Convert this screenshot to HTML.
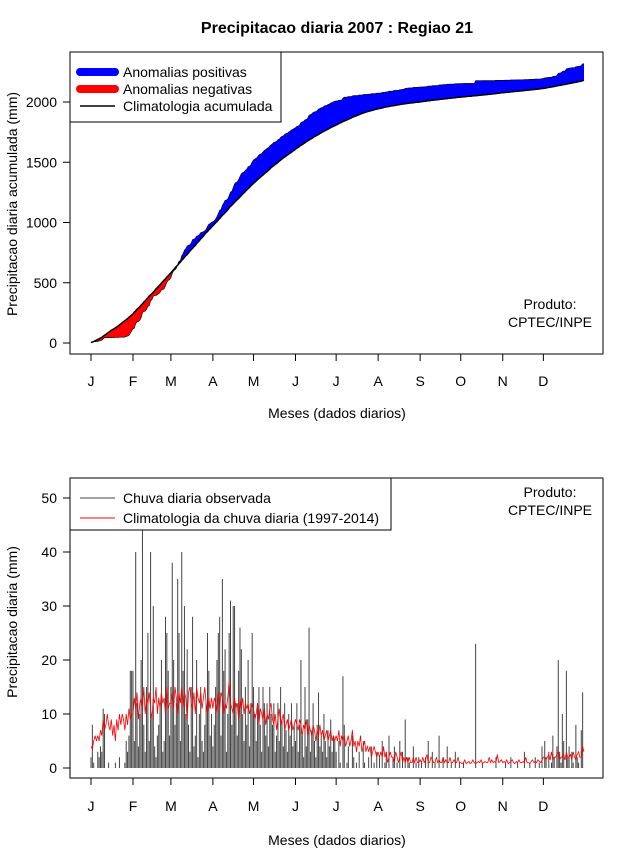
<!DOCTYPE html>
<html><head><meta charset="utf-8"><style>
body{margin:0;background:#fff;}
svg text{font-family:"Liberation Sans",sans-serif;font-size:14px;fill:#000;}
</style></head><body>
<svg id="c" width="640" height="850" xmlns="http://www.w3.org/2000/svg">
<text x="337" y="33" text-anchor="middle" style="font-weight:bold;font-size:16px">Precipitacao diaria 2007 : Regiao 21</text>
<g id="topg"></g><g id="botg"></g>
</svg>
<script>
const months=['J','F','M','A','M','J','J','A','S','O','N','D'];
const obsJan=[2,8,1,0,0,3,2,4,3,11,10,0,0,1,0,0,0,0,1,0,0,2,0,0,0,1,5,3,6,18,18];
const obsFeb=[18,5,40,12,4,10,20,45,8,3,15,25,5,40,10,30,4,2,6,8,12,20,3,5,28,25,18,6];
const obsMar=[15,38,20,8,12,35,25,5,40,18,30,10,22,8,3,15,28,4,6,20,2,10,15,5,3,8,12,25,18,6,10];
const obsApr=[4,8,15,20,25,28,6,35,18,22,3,10,25,31,8,30,30,12,6,18,26,22,10,5,15,8,20,4,12,25];
const obsMay=[15,10,5,12,15,8,3,15,12,6,12,4,15,10,8,12,3,6,12,5,15,9,4,12,7,3,10,6,12,4,8];
const obsJun=[5,12,3,8,20,6,2,15,4,9,26,3,7,12,5,2,8,14,4,6,3,10,5,2,7,4,9,3,6,5];
const obsJul=[3,0,5,1,0,17,8,0,1,4,0,0,6,2,0,1,0,3,0,0,5,1,0,0,2,0,4,0,1,0,3];
const obsAug=[0,2,0,5,0,1,3,0,6,0,0,2,4,0,1,0,5,0,3,0,9,0,2,1,0,0,4,0,1,0,2];
const obsSep=[0,1,0,0,2,0,5,0,0,3,0,1,0,0,6,0,0,2,0,0,4,0,0,1,0,0,3,0,0,1];
const obsOct=[0,0,1,0,0,0,0,0,0,0,0,23,0,0,0,0,1,0,0,0,0,0,0,0,0,0,2,0,0,0,0];
const obsNov=[0,0,1,0,0,0,2,0,0,0,0,1,0,0,0,0,3,0,0,0,1,0,0,0,2,0,0,1,0,4];
const obsDec=[0,5,2,0,3,0,1,6,2,0,4,20,3,1,10,5,0,18,2,4,0,3,1,0,8,2,1,0,7,14,0];
const climJan=[4,3.5,5,6,5,6,5,7,6,9,7,8,10,8,7,9,6,8,5,9,7,10,8,10,9,7,10,8,11,9,10];
const climFeb=[10,13,11,14,9,12,13,11,15,10,13,12,14,11,9,13,12,15,10,13,11,14,12,13,10,15,11,12];
const climMar=[12,14,11,15,13,10,14,12,15,11,14,13,9,14,15,12,11,14,10,15,13,12,14,11,13,15,12,10,13,11,13];
const climApr=[11,13,12,10,14,11,14,13,10,12,11,13,16,12,11,10,13,11,12,9,13,11,13,10,12,11,12,10,11,12];
const climMay=[11,9,10,12,8,11,10,9,11,8,10,9,11,12,9,8,10,7,9,11,8,9,10,7,8,9,7,8,9,7,8];
const climJun=[9,8,7,9,8,6,8,7,9,6,8,7,6,8,7,5,7,6,8,6,7,5,6,7,5,6,7,5,6,5];
const climJul=[6,5,7,4,6,5,6,4,5,6,4,5,7,4,5,3,5,4,6,3,4,5,3,4,3,4,2,3,4,3,2];
const climAug=[3,2,3,2,4,2,3,1,2,3,2,2,1,3,2,1,2,3,1,2,1,2,1,2,1,1,2,1,2,1,1];
const climSep=[1.5,1,2,1,1.5,2.5,1,1,2,1.5,1,1,2,1,1.5,1,1,2,1,1.5,1,1,2,1,1,1.5,1,1,2,1];
const climOct=[1,0.8,1,1.5,0.8,1,1.2,0.8,1,1.5,1,0.8,1,1.2,1,1.5,0.8,1,1.2,1,1,2,1,1.5,1,1.2,1,2.5,1,1.2,1.5];
const climNov=[1,1.2,1,1.5,0.8,1,1.2,1.5,1,0.8,1.2,1,1.5,1,1,1.2,1,2,1,1,0.8,1.2,1.5,1,1.2,1,1.5,1.2,1,1.5];
const climDec=[2,2,1.5,2,2.5,1.5,3,1.5,2,2,2.5,3,1.5,2,2,2.5,1.5,3,2,2,2.5,1.5,3,2,1.5,2.5,3,2,2,4,3];
const topTicks=[0,500,1000,1500,2000];
const botTicks=[0,10,20,30,40,50];
const monthStart=[1,32,60,91,121,152,182,213,244,274,305,335];

const obs=[].concat(obsJan,obsFeb,obsMar,obsApr,obsMay,obsJun,obsJul,obsAug,obsSep,obsOct,obsNov,obsDec);
const clim=[].concat(climJan,climFeb,climMar,climApr,climMay,climJun,climJul,climAug,climSep,climOct,climNov,climDec);
const NS='http://www.w3.org/2000/svg';
function mk(p,t,a){const el=document.createElementNS(NS,t);for(const k in a)el.setAttribute(k,a[k]);p.appendChild(el);return el;}
const X=d=>91+(d-1)*(584-91)/364;
const YT=v=>343-v*(343-102)/2000;
const YB=v=>768-v*(768-498)/50;
const co=[],cc=[];let s1=0,s2=0;
obs.forEach((v,i)=>{s1+=v;s2+=clim[i];co.push(s1);cc.push(s2);});

// ---------- top ----------
const topG=document.getElementById('topg');
const defs=mk(topG,'defs',{});
const lineC=cc.map((v,i)=>X(i+1).toFixed(1)+','+YT(v).toFixed(1)).join(' L');
const lineO=co.map((v,i)=>X(i+1).toFixed(1)+','+YT(v).toFixed(1)).join(' L');
const cpA=mk(defs,'clipPath',{id:'above'});
mk(cpA,'path',{d:'M'+lineC+' L'+X(365)+',0 L'+X(1)+',0 Z'});
const cpB=mk(defs,'clipPath',{id:'below'});
mk(cpB,'path',{d:'M'+lineC+' L'+X(365)+',400 L'+X(1)+',400 Z'});
const band='M'+lineO+' L'+cc.map((v,i)=>X(365-i).toFixed(1)+','+YT(cc[364-i]).toFixed(1)).join(' L')+' Z';
let el=mk(topG,'path',{d:band,fill:'#0000ff','clip-path':'url(#above)'});


el=mk(topG,'path',{d:band,fill:'#ff0000','clip-path':'url(#below)'});


el=mk(topG,'path',{d:'M'+lineO,fill:'none',stroke:'#000','stroke-width':0.6});


el=mk(topG,'path',{d:'M'+lineC,fill:'none',stroke:'#000','stroke-width':1.5});



function axes(g,y0,y1,ticks,Y,ticklblY,xlabY,title,titleY,pref){
  const r=mk(g,'rect',{x:70,y:y0,width:533,height:y1-y0,fill:'none',stroke:'#000'});
  
  
  ticks.forEach(t=>{mk(g,'line',{x1:63,x2:70,y1:Y(t),y2:Y(t),stroke:'#000'});
    const tx=mk(g,'text',{x:57,y:Y(t)+5,'text-anchor':'end'});tx.textContent=t;
    
    });
  monthStart.forEach((d,i)=>{mk(g,'line',{x1:X(d),x2:X(d),y1:y1,y2:y1+7,stroke:'#000'});
    const tx=mk(g,'text',{x:X(d),y:ticklblY,'text-anchor':'middle'});tx.textContent=months[i];
    
    });
  let t=mk(g,'text',{x:337,y:xlabY,'text-anchor':'middle'});t.textContent='Meses (dados diarios)';
  
  
  t=mk(g,'text',{x:17,y:titleY,'text-anchor':'middle',transform:'rotate(-90 17 '+titleY+')'});t.textContent=title;
  
  
}
axes(topG,52,354,topTicks,YT,386,418,'Precipitacao diaria acumulada (mm)',204,'top');
function produto(g,y,pref){['Produto:','CPTEC/INPE'].forEach((s,i)=>{const t=mk(g,'text',{x:550,y:y+i*18,'text-anchor':'middle'});t.textContent=s;
  
  });}
produto(topG,309,'top');
function legend(g,x,y,w,h,items,pref){
  const lg=mk(g,'g',{});
  
  
  mk(lg,'rect',{x:x,y:y,width:w,height:h,fill:'#fff',stroke:'#000'});
  items.forEach((it,i)=>{const yy=y+20+i*it[3];
    mk(lg,'line',{x1:x+10,x2:x+45,y1:yy,y2:yy,stroke:it[1],'stroke-width':it[2],'stroke-linecap':it[2]>3?'round':'butt'});
    const t=mk(lg,'text',{x:x+53,y:yy+5});t.textContent=it[0];
    
    });
}
legend(topG,70,52,211,70,[['Anomalias positivas','#0000ff',8,17],['Anomalias negativas','#ff0000',8,17],['Climatologia acumulada','#000',1.5,17]],'top');

// ---------- bottom ----------
const botG=document.getElementById('botg');
const d2=mk(botG,'defs',{});
const cp=mk(d2,'clipPath',{id:'bclip'});mk(cp,'rect',{x:70,y:478,width:533,height:300});
const bars=mk(botG,'g',{'clip-path':'url(#bclip)'});
obs.forEach((v,i)=>{if(v<=0)return;const l=mk(bars,'line',{x1:X(i+1),x2:X(i+1),y1:YB(0),y2:YB(v),stroke:'#444','stroke-width':1});
  
  });
el=mk(botG,'path',{d:'M'+clim.map((v,i)=>X(i+1).toFixed(1)+','+YB(v).toFixed(1)).join(' L'),fill:'none',stroke:'#ff0000','stroke-width':0.8});


axes(botG,478,778,botTicks,YB,811,845,'Precipitacao diaria (mm)',622,'bottom');
produto(botG,497,'bottom');
legend(botG,70,478,321,52,[['Chuva diaria observada','#444',1,20],['Climatologia da chuva diaria (1997-2014)','#ff0000',1,20]],'bottom');
</script>
</body></html>
